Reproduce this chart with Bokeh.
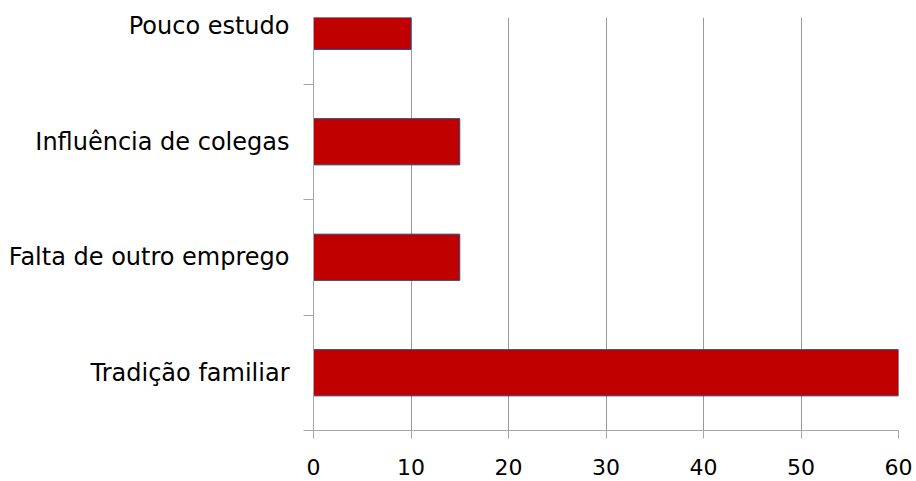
from bokeh.plotting import figure
from bokeh.models import ColumnDataSource, FixedTicker, Range1d
from bokeh.embed import file_html
from bokeh.resources import INLINE

categories = ["Tradição familiar", "Falta de outro emprego", "Influência de colegas", "Pouco estudo"]
values = [60, 15, 15, 10]
x_ticks = [0, 10, 20, 30, 40, 50, 60]

centers = [i + 0.5 for i in range(len(categories))]
bounds = [float(i) for i in range(len(categories))]

src = ColumnDataSource(dict(y=centers, v=values, cat=categories))

p = figure(width=916, height=481, output_backend="svg", toolbar_location=None,
           x_range=Range1d(0, 60), y_range=Range1d(0, 3.576),
           min_border_left=313, min_border_right=18, min_border_top=17,
           min_border_bottom=51)

p.hbar(y="y", right="v", left=0, height=0.4, source=src,
       fill_color="#C00000", line_color="#2F4470", line_width=1)

p.outline_line_color = None
p.background_fill_color = "white"
p.border_fill_color = "white"

# x axis
p.xaxis.ticker = FixedTicker(ticks=x_ticks)
p.xaxis.major_label_text_font = "DejaVu Sans"
p.xaxis.major_label_text_font_size = "22px"
p.xaxis.major_label_text_color = "black"
p.xaxis.major_tick_out = 8
p.xaxis.major_tick_in = 0
p.xaxis.minor_tick_line_color = None
p.xaxis.axis_line_color = "#A6A6A6"
p.xaxis.major_tick_line_color = "#A6A6A6"
p.xaxis.major_label_standoff = 20

# y axis
p.yaxis.ticker = FixedTicker(ticks=centers, minor_ticks=bounds)
p.yaxis.major_label_overrides = {c: lab for c, lab in zip(centers, categories)}
p.yaxis.major_label_text_font = "DejaVu Sans"
p.yaxis.major_label_text_font_size = "24px"
p.yaxis.major_label_text_color = "black"
p.yaxis.major_tick_out = 0
p.yaxis.major_tick_in = 0
p.yaxis.minor_tick_out = 10
p.yaxis.minor_tick_in = 0
p.yaxis.minor_tick_line_color = "#A6A6A6"
p.yaxis.axis_line_color = "#A6A6A6"
p.yaxis.major_label_standoff = 14

# grid
p.ygrid.grid_line_color = None
p.xgrid.ticker = FixedTicker(ticks=x_ticks)
p.xgrid.grid_line_color = "#999999"
p.xgrid.grid_line_width = 1

open("out.html", "w").write(file_html(p, INLINE))
